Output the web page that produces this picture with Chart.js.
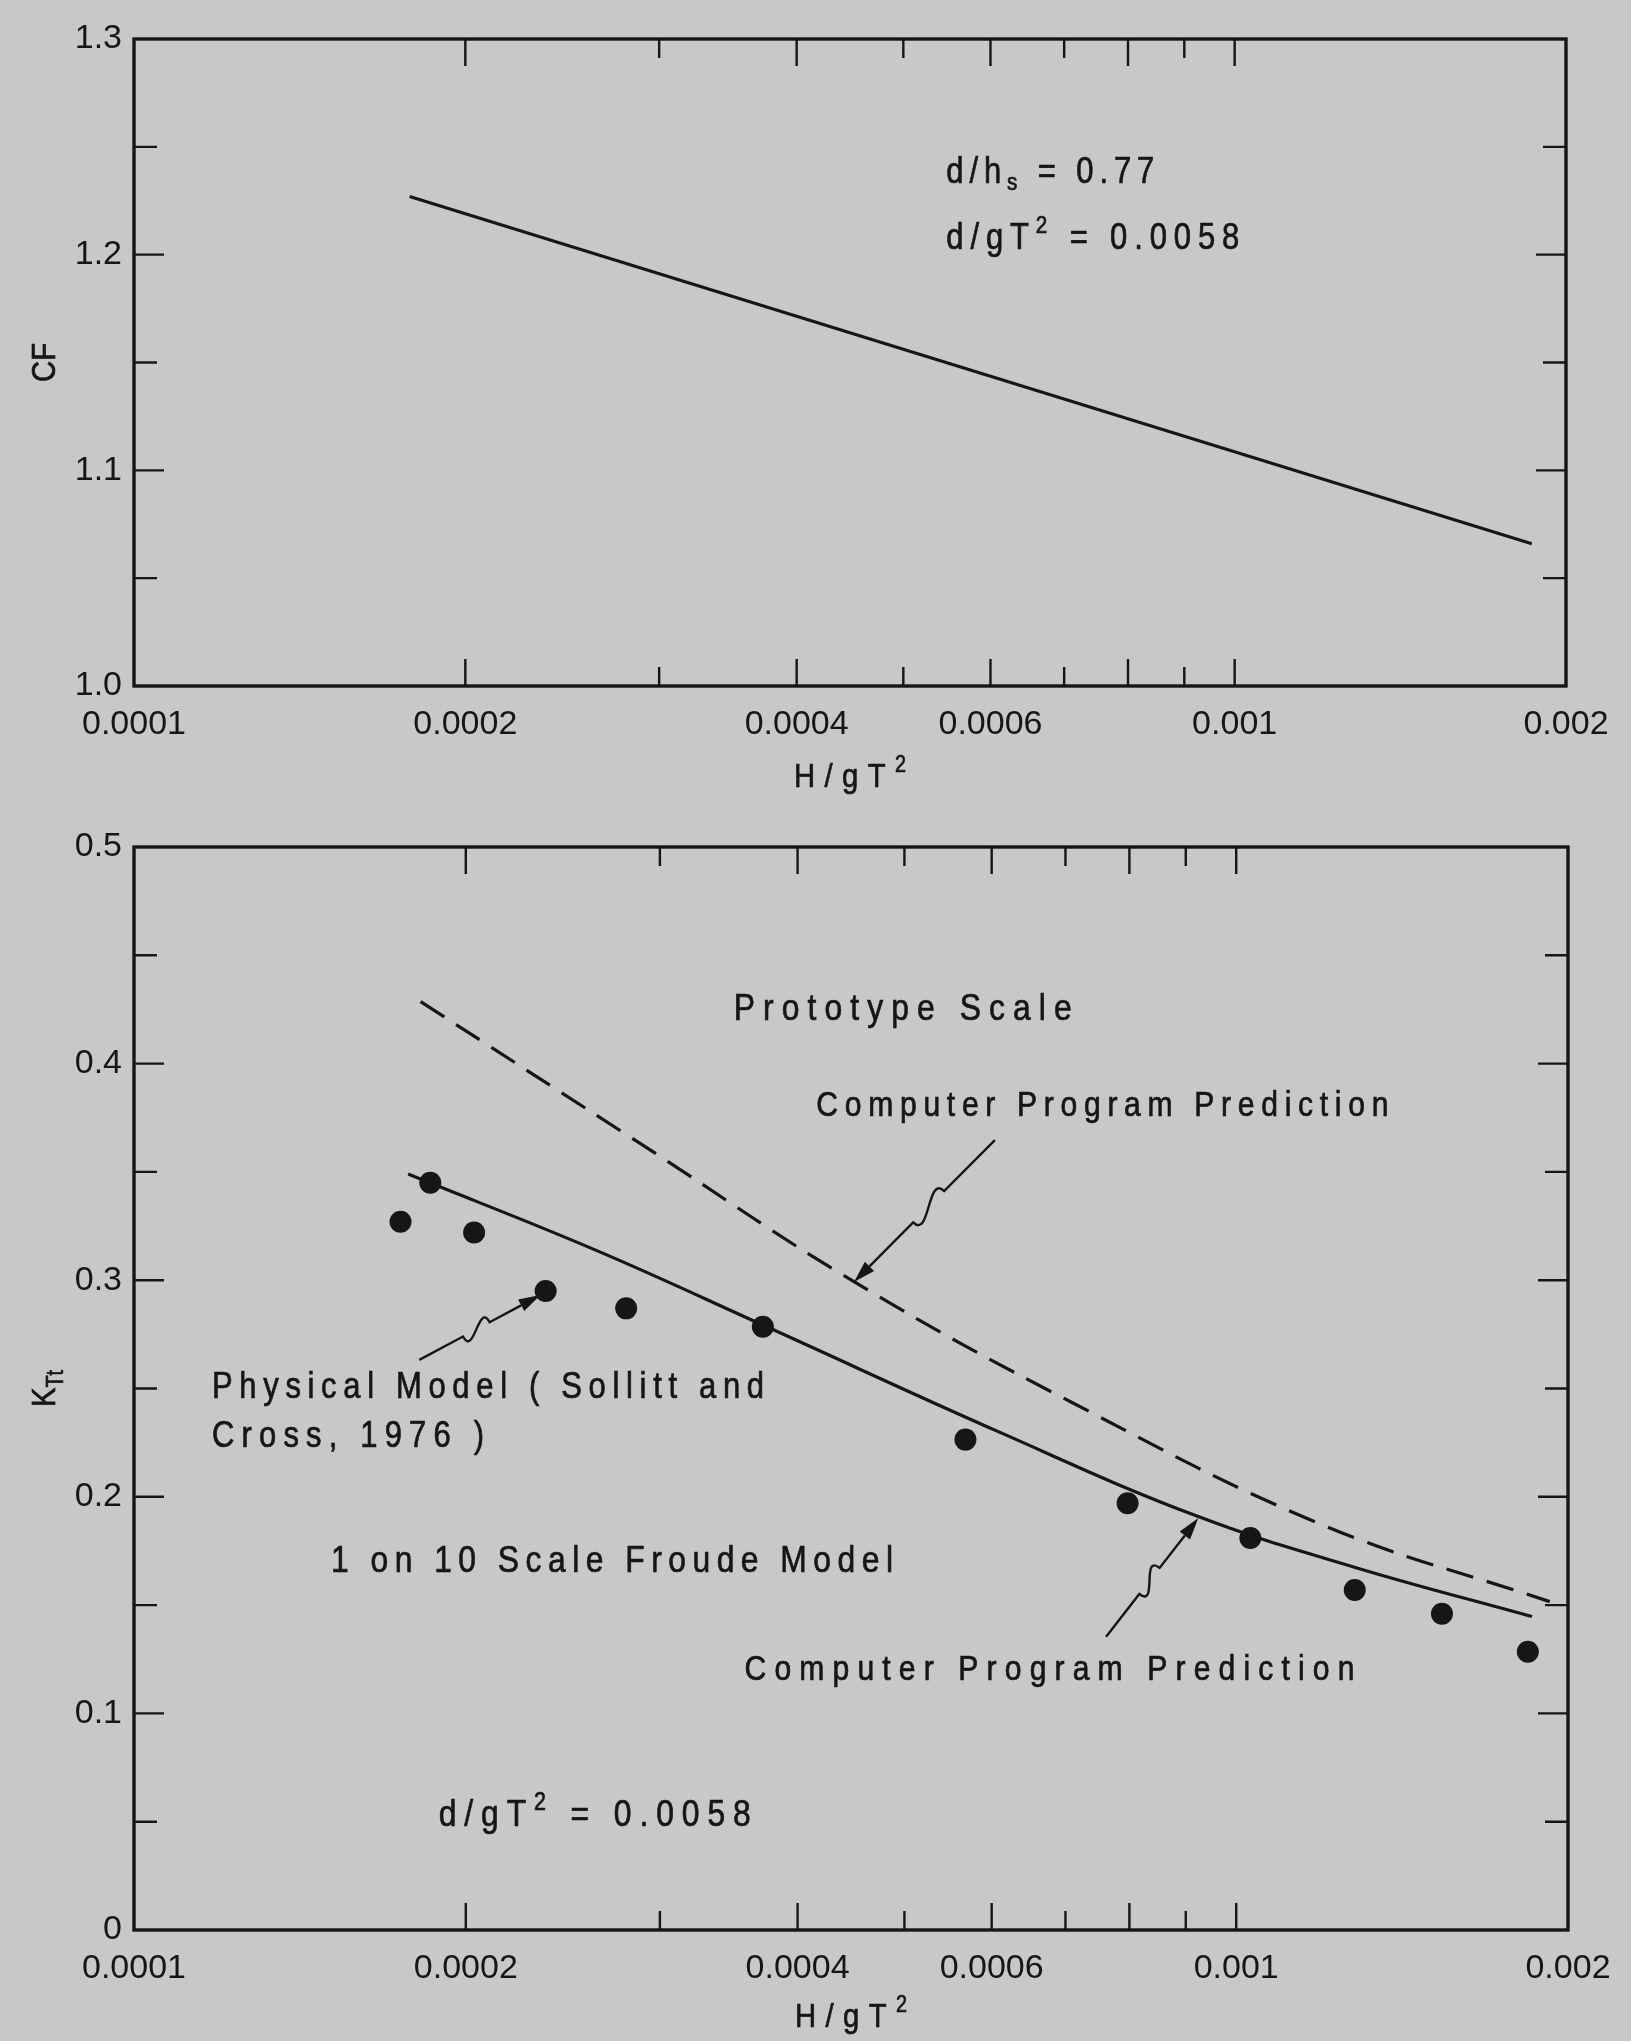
<!DOCTYPE html>
<html><head><meta charset="utf-8">
<script src="https://cdn.jsdelivr.net/npm/chart.js@4.4.1/dist/chart.umd.min.js"></script>
<style>
html,body{margin:0;padding:0;background:#c8c8c8;}
#wrap{position:relative;width:1631px;height:2041px;overflow:hidden;background:#c8c8c8;}
.box{position:absolute;left:0;width:1631px;}
#b1{top:0;height:800px;}
#b2{top:800px;height:1241px;}
</style></head><body>
<div id="wrap"><div class="box" id="b1"><canvas id="c1"></canvas></div><div class="box" id="b2"><canvas id="c2"></canvas></div></div>
<script>
const FONT = "'Liberation Sans', 'DejaVu Sans', sans-serif";
const INK = '#161616';
const NARROW = 0.86;

// ---- shared x axis (H/gT^2, logarithmic) ----
const xMin = 0.0001, xMax = 0.002;
const xTickValues = [0.0002,0.0003,0.0004,0.0005,0.0006,0.0007,0.0008,0.0009,0.001];
const xLongTicks = [0.0002,0.0004,0.0006,0.0008,0.001];
const xLabelValues = [0.0001,0.0002,0.0004,0.0006,0.001,0.002];
const xLabels = ['0.0001','0.0002','0.0004','0.0006','0.001','0.002'];

// ---- top chart: CF ----
const cfYMin = 1.0, cfYMax = 1.3;
const cfYTicks = [1.05,1.1,1.15,1.2,1.25];
const cfYLabelValues = [1.0,1.1,1.2,1.3];
const cfYLabels = ['1.0','1.1','1.2','1.3'];
const cfX = [0.000178, 0.001862];
const cfY = [1.227, 1.066];

// ---- bottom chart: K_Tt ----
const kYMin = 0, kYMax = 0.5;
const kYTicks = [0.05,0.1,0.15,0.2,0.25,0.3,0.35,0.4,0.45];
const kYLabelValues = [0,0.1,0.2,0.3,0.4,0.5];
const kYLabels = ['0','0.1','0.2','0.3','0.4','0.5'];
const physX = [0.0001745,0.0001857,0.0002035,0.0002363,0.0002796,0.000372,0.000568,0.000797,0.00103,0.001281,0.001537,0.001839];
const physY = [0.327,0.345,0.322,0.295,0.287,0.2785,0.2264,0.197,0.181,0.157,0.146,0.1285];
const froudeX = [0.0001773,0.000262,0.000372,0.000612,0.00092,0.00128,0.001855];
const froudeY = [0.349,0.314,0.2793,0.2295,0.1912,0.1675,0.1447];
const protoX = [0.000182,0.000293,0.00045,0.000711,0.001198,0.001925];
const protoY = [0.4286,0.3606,0.2993,0.2433,0.187,0.1516];

function pts(xs, ys){ return xs.map((v,i)=>({x:v, y:ys[i]})); }
function near(a,b){ return Math.abs(a-b) <= Math.abs(b)*1e-6 + 1e-12; }

function segInfo(s){ return typeof s === 'string' ? {t:s, m:''} : s; }
function segFont(size, m){ return (m ? Math.round(size*0.68) : size) + 'px ' + FONT; }
function naturalWidth(ctx, segs, size){
  let w = 0, n = 0;
  segs.map(segInfo).forEach(s => { ctx.font = segFont(size, s.m); for (const ch of s.t){ w += ctx.measureText(ch).width*NARROW; n++; } });
  return {w, n};
}
function drawRich(ctx, segs, x, y, size, target){
  const {w, n} = naturalWidth(ctx, segs, size);
  const sp = target && n > 1 ? (target - w)/(n - 1) : 0;
  let cx = x;
  ctx.lineWidth = 0.7;
  segs.map(segInfo).forEach(s => {
    ctx.font = segFont(size, s.m);
    const dy = s.m === 'sup' ? -size*0.36 : (s.m === 'sub' ? size*0.3 : 0);
    for (const ch of s.t){
      ctx.save(); ctx.translate(cx, y + dy); ctx.scale(NARROW, 1);
      ctx.fillText(ch, 0, 0); ctx.strokeText(ch, 0, 0);
      ctx.restore();
      cx += ctx.measureText(ch).width*NARROW + sp;
    }
  });
}
function richWidth(ctx, segs, size, target){ return target || naturalWidth(ctx, segs, size).w; }

function drawArrow(ctx, x0, y0, x1, y1){
  const dx = x1-x0, dy = y1-y0, L = Math.hypot(dx,dy), ux = dx/L, uy = dy/L, nx = -uy, ny = ux;
  const A = [x0+dx*0.36, y0+dy*0.36], B = [x0+dx*0.58, y0+dy*0.58];
  const head = 22, hw = 6.5;
  const hx = x1-ux*head, hy = y1-uy*head;
  ctx.lineWidth = 2.4;
  ctx.beginPath(); ctx.moveTo(x0,y0); ctx.lineTo(A[0],A[1]);
  ctx.bezierCurveTo(A[0]+nx*24, A[1]+ny*24, B[0]-nx*24, B[1]-ny*24, B[0], B[1]);
  ctx.lineTo(hx,hy); ctx.stroke();
  ctx.beginPath(); ctx.moveTo(x1,y1); ctx.lineTo(hx+nx*hw, hy+ny*hw); ctx.lineTo(hx-nx*hw, hy-ny*hw); ctx.closePath(); ctx.fill();
}

const framePlugin = {
  id: 'frame',
  afterDraw(chart, args, o){
    const {ctx, chartArea:a, scales:{x, y}} = chart;
    ctx.save();
    ctx.strokeStyle = INK; ctx.lineWidth = 3.4;
    ctx.strokeRect(a.left, a.top, a.right-a.left, a.bottom-a.top);
    ctx.lineWidth = 2.4;
    ctx.beginPath();
    xTickValues.forEach(v => {
      const px = x.getPixelForValue(v);
      const len = xLongTicks.some(t => near(v,t)) ? 27 : 19;
      ctx.moveTo(px, a.bottom); ctx.lineTo(px, a.bottom-len);
      ctx.moveTo(px, a.top); ctx.lineTo(px, a.top+len);
    });
    o.yTicks.forEach(v => {
      const py = y.getPixelForValue(v);
      const len = o.yMajor.some(t => near(v,t)) ? 30 : 23;
      ctx.moveTo(a.left, py); ctx.lineTo(a.left+len, py);
      ctx.moveTo(a.right, py); ctx.lineTo(a.right-len, py);
    });
    ctx.stroke();
    ctx.restore();
  }
};

const notesPlugin = {
  id: 'notes',
  afterDatasetsDraw(chart, args, o){
    const {ctx, chartArea:a, scales:{x, y}} = chart;
    ctx.save();
    ctx.fillStyle = INK; ctx.strokeStyle = INK;
    ctx.textBaseline = 'middle'; ctx.textAlign = 'left';
    (o.texts || []).forEach(t => drawRich(ctx, t.segs, x.getPixelForValue(t.x), y.getPixelForValue(t.y), t.size, t.w));
    (o.arrows || []).forEach(ar => drawArrow(ctx,
      x.getPixelForValue(ar.from[0]), y.getPixelForValue(ar.from[1]),
      x.getPixelForValue(ar.to[0]), y.getPixelForValue(ar.to[1])));
    const xt = o.xTitle;
    const wx = richWidth(ctx, xt.segs, xt.size, xt.w);
    drawRich(ctx, xt.segs, (a.left+a.right)/2 - wx/2, a.bottom + xt.off, xt.size, xt.w);
    const yt = o.yTitle;
    const wy = richWidth(ctx, yt.segs, yt.size, yt.w);
    ctx.save(); ctx.translate(yt.x, (a.top+a.bottom)/2); ctx.rotate(-Math.PI/2);
    drawRich(ctx, yt.segs, -wy/2, 0, yt.size, yt.w);
    ctx.restore();
    ctx.restore();
  }
};

function makeChart(id, cfg){
  return new Chart(document.getElementById(id), {
    type: 'line',
    data: { datasets: cfg.datasets },
    plugins: [notesPlugin, framePlugin],
    options: {
      responsive: true, maintainAspectRatio: false, animation: false,
      layout: { padding: { top: cfg.padTop, right: cfg.padRight, left: 0, bottom: 0 } },
      plugins: {
        legend: { display: false }, tooltip: { enabled: false },
        frame: { yTicks: cfg.yTicks, yMajor: cfg.yLabelValues },
        notes: cfg.notes
      },
      scales: {
        x: {
          type: 'logarithmic', min: xMin, max: xMax,
          afterBuildTicks: s => { s.ticks = xLabelValues.map(v => ({value: v})); },
          afterFit: s => { s.height = cfg.xHeight; },
          grid: { display: false, drawTicks: false }, border: { display: false },
          ticks: { autoSkip: false, maxRotation: 0, minRotation: 0, padding: 18, color: INK,
            font: { family: FONT, size: 34 },
            callback: v => { const i = xLabelValues.findIndex(t => near(v,t)); return i >= 0 ? xLabels[i] : ''; } }
        },
        y: {
          type: 'linear', min: cfg.yMin, max: cfg.yMax,
          afterBuildTicks: s => { s.ticks = cfg.yLabelValues.map(v => ({value: v})); },
          afterFit: s => { s.width = 134; },
          grid: { display: false, drawTicks: false }, border: { display: false },
          ticks: { autoSkip: false, padding: 12, color: INK, font: { family: FONT, size: 34 },
            callback: v => { const i = cfg.yLabelValues.findIndex(t => near(v,t)); return i >= 0 ? cfg.yLabels[i] : ''; } }
        }
      }
    }
  });
}

// top chart
makeChart('c1', {
  padTop: 39, padRight: 65, xHeight: 114,
  yMin: cfYMin, yMax: cfYMax, yTicks: cfYTicks, yLabelValues: cfYLabelValues, yLabels: cfYLabels,
  datasets: [
    { label: 'CF', data: pts(cfX, cfY), borderColor: INK, borderWidth: 3.2, pointRadius: 0, fill: false }
  ],
  notes: {
    texts: [
      { segs: ['d/h', {t:'s', m:'sub'}, ' = 0.77'], x: 0.000547, y: 1.238, size: 36, w: 208 },
      { segs: ['d/gT', {t:'2', m:'sup'}, ' = 0.0058'], x: 0.000547, y: 1.207, size: 36, w: 293 }
    ],
    arrows: [],
    xTitle: { segs: ['H/gT', {t:'2', m:'sup'}], size: 34, w: 112, off: 92 },
    yTitle: { segs: ['CF'], size: 34, x: 46 }
  }
});

// bottom chart
makeChart('c2', {
  padTop: 47, padRight: 63, xHeight: 111,
  yMin: kYMin, yMax: kYMax, yTicks: kYTicks, yLabelValues: kYLabelValues, yLabels: kYLabels,
  datasets: [
    { label: 'Computer Program Prediction (Prototype Scale)', data: pts(protoX, protoY), borderColor: INK, borderWidth: 3.2,
      borderDash: [28, 14], pointRadius: 0, tension: 0.4, fill: false },
    { label: 'Computer Program Prediction (1 on 10 Scale Froude Model)', data: pts(froudeX, froudeY), borderColor: INK, borderWidth: 3.2,
      pointRadius: 0, tension: 0.4, fill: false },
    { label: 'Physical Model (Sollitt and Cross, 1976)', data: pts(physX, physY), showLine: false,
      pointRadius: 11, pointBackgroundColor: INK, pointBorderWidth: 0, borderColor: INK }
  ],
  notes: {
    texts: [
      { segs: ['Prototype Scale'], x: 0.00035, y: 0.425, size: 37, w: 338 },
      { segs: ['Computer Program Prediction'], x: 0.000416, y: 0.3802, size: 35, w: 572 },
      { segs: ['Physical Model ( Sollitt and'], x: 0.0001177, y: 0.2504, size: 36, w: 552 },
      { segs: ['Cross, 1976 )'], x: 0.0001177, y: 0.2276, size: 36, w: 272 },
      { segs: ['1 on 10 Scale Froude Model'], x: 0.0001509, y: 0.1699, size: 37, w: 562 },
      { segs: ['Computer Program Prediction'], x: 0.000358, y: 0.12, size: 35, w: 610 },
      { segs: ['d/gT', {t:'2', m:'sup'}, ' = 0.0058'], x: 0.000189, y: 0.0526, size: 37, w: 312 }
    ],
    arrows: [
      { from: [0.000604, 0.3647], to: [0.00045, 0.2992] },
      { from: [0.0001815, 0.2632], to: [0.0002338, 0.2932] },
      { from: [0.000762, 0.1354], to: [0.000924, 0.1902] }
    ],
    xTitle: { segs: ['H/gT', {t:'2', m:'sup'}], size: 34, w: 112, off: 88 },
    yTitle: { segs: ['K', {t:'Tt', m:'sub'}], size: 34, x: 46 }
  }
});
</script>
</body></html>
